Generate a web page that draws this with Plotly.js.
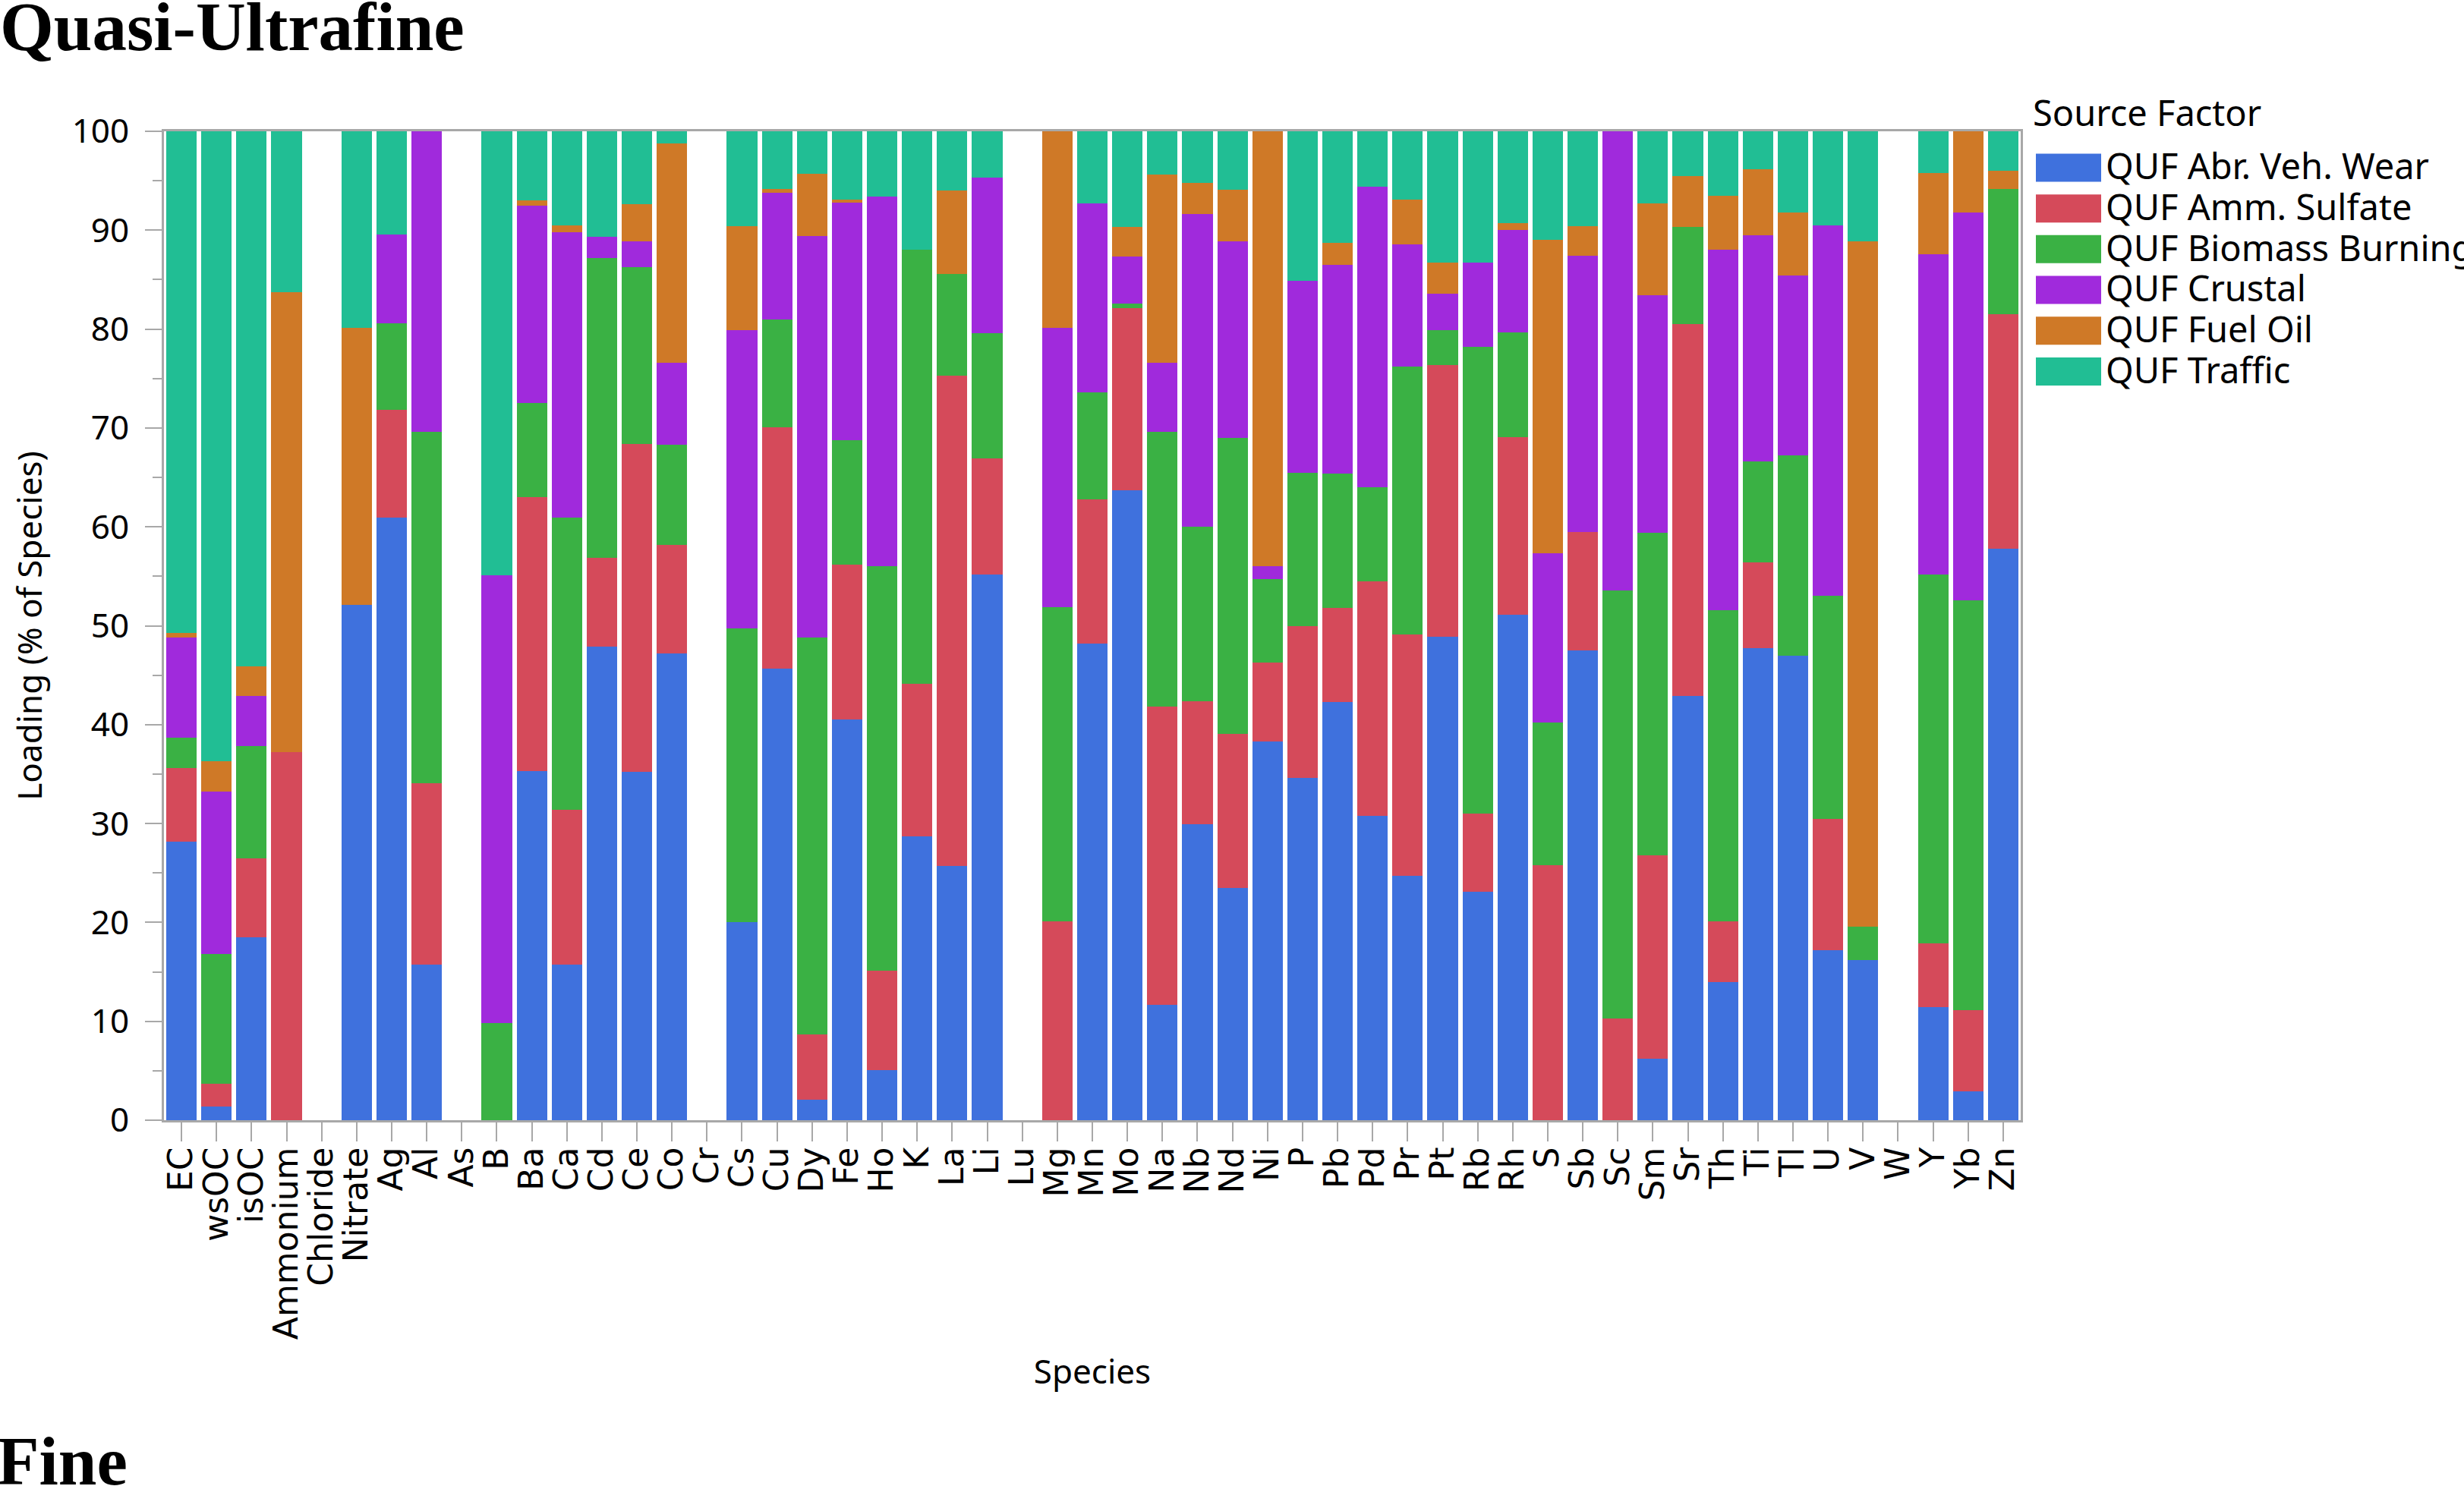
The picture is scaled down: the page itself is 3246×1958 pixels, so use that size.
<!DOCTYPE html>
<html>
<head>
<meta charset="utf-8">
<script src="https://cdn.plot.ly/plotly-3.0.1.min.js"></script>
<style>
  html, body { margin: 0; padding: 0; background: #fff; }
  #chart { width: 3246px; height: 1958px; }
</style>
</head>
<body>
<div id="chart"></div>
<script>
// ---------------- DATA ----------------
const species = ["EC","wsOC","isOC","Ammonium","Chloride","Nitrate","Ag","Al","As","B","Ba","Ca","Cd","Ce","Co","Cr","Cs","Cu","Dy","Fe","Ho","K","La","Li","Lu","Mg","Mn","Mo","Na","Nb","Nd","Ni","P","Pb","Pd","Pr","Pt","Rb","Rh","S","Sb","Sc","Sm","Sr","Th","Ti","Tl","U","V","W","Y","Yb","Zn"];

const factorNames = ["QUF Abr. Veh. Wear","QUF Amm. Sulfate","QUF Biomass Burning","QUF Crustal","QUF Fuel Oil","QUF Traffic"];

const abrVehWear = [28.2,1.4,18.5,0,0,52.1,60.9,15.7,0,0,35.3,15.7,47.9,35.2,47.2,0,20.0,45.7,2.1,40.5,5.1,28.7,25.7,55.2,0,0,48.2,63.7,11.7,29.9,23.5,38.3,34.6,42.3,30.8,24.7,48.9,23.1,51.1,0,47.5,0,6.2,42.9,14.0,47.7,47.0,17.2,16.2,0,11.4,2.9,57.8];
const ammSulfate = [7.4,2.3,8.0,37.2,0,0,10.9,18.4,0,0,27.7,15.7,9.0,33.2,11.0,0,0,24.4,6.6,15.7,10.0,15.4,49.6,11.7,0,20.1,14.6,18.4,30.1,12.5,15.6,8.0,15.4,9.5,23.7,24.4,27.5,7.9,18.0,25.8,12.0,10.3,20.6,37.6,6.1,8.7,0,13.3,0,0,6.5,8.2,23.7];
const biomassBurning = [3.1,13.1,11.3,0,0,0,8.8,35.5,0,9.8,9.5,29.5,30.3,17.9,10.1,0,29.7,10.9,40.1,12.6,40.9,43.9,10.3,12.7,0,31.8,10.8,0.5,27.8,17.6,29.9,8.4,15.5,13.6,9.5,27.1,3.5,47.2,10.6,14.4,0,43.3,32.6,9.8,31.5,10.2,20.2,22.5,3.4,0,37.3,41.5,12.7];
const crustal = [10.1,16.4,5.1,0,0,0,9.0,30.4,0,45.3,20.0,28.9,2.1,2.6,8.3,0,30.2,12.8,40.6,24.0,37.4,0,0,15.7,0,28.2,19.1,4.7,7.0,31.6,19.9,1.3,19.4,21.1,30.4,12.4,3.7,8.5,10.3,17.1,27.9,46.4,24.0,0,36.4,22.9,18.2,37.5,0,0,32.4,39.2,0];
const fuelOil = [0.5,3.1,3.0,46.5,0,28.0,0,0,0,0,0.5,0.7,0,3.7,22.2,0,10.5,0.4,6.3,0.3,0,0,8.4,0,0,19.9,0,3.0,19.0,3.2,5.2,44.0,0,2.2,0,4.5,3.1,0,0.7,31.7,3.0,0,9.3,5.2,5.5,6.7,6.4,0,69.3,0,8.2,8.2,1.8];
const traffic = [50.7,63.7,54.1,16.3,0,19.9,10.4,0,0,44.9,7.0,9.5,10.7,7.4,1.2,0,9.6,5.8,4.3,6.9,6.6,12.0,6.0,4.7,0,0,7.3,9.7,4.4,5.2,5.9,0,15.1,11.3,5.6,6.9,13.3,13.3,9.3,11.0,9.6,0,7.3,4.5,6.5,3.8,8.2,9.5,11.1,0,4.2,0,4.0];

const yTickVals = [0,10,20,30,40,50,60,70,80,90,100];

// ---------------- STYLE ----------------
const seriesValues = [abrVehWear, ammSulfate, biomassBurning, crustal, fuelOil, traffic];
const colors = ["#3F71DD","#D54A5A","#3AB144","#A02ADC","#CF7927","#21BE94"];
const axisGray = "#a8a8a8";
const W = 3246, H = 1958;
const plotL = 216, plotR = 2662, plotT = 173, plotB = 1476;
const plotW = plotR - plotL, plotH = plotB - plotT;
const px2x = p => (p - plotL) / plotW;
const py2y = p => (plotB - p) / plotH;

const traces = seriesValues.map((vals, i) => ({
  type: "bar",
  name: '<span style="font-size:47px">' + factorNames[i] + '</span>',
  x: species,
  y: vals,
  marker: { color: colors[i], line: { width: 0 } },
  hoverinfo: "x+y+name"
}));

const layout = {
  width: W, height: H,
  paper_bgcolor: "#fff", plot_bgcolor: "#fff",
  font: { family: "Noto Sans, Open Sans, sans-serif", color: "#000", size: 44 },
  barmode: "stack",
  bargap: 0.13,
  margin: { l: plotL, r: W - plotR, t: plotT, b: H - plotB, pad: 0, autoexpand: false },
  title: {
    text: "Quasi-Ultrafine",
    font: { family: "Liberation Serif, Times New Roman, serif", size: 91, weight: "bold", color: "#000" },
    xref: "container", x: 0, xanchor: "left",
    yref: "container", y: 1 - 34 / H, yanchor: "middle",
    pad: { t: 0, l: 0, r: 0, b: 0 }
  },
  xaxis: {
    type: "category",
    categoryorder: "array", categoryarray: species,
    tickmode: "array", tickvals: species, ticktext: species,
    tickangle: -90,
    tickfont: { family: "DejaVu Sans, sans-serif", size: 44, color: "#000" },
    ticks: "outside", ticklen: 25, tickwidth: 2, tickcolor: axisGray,
    ticklabelstandoff: -10,
    showline: true, linecolor: axisGray, linewidth: 3, mirror: true,
    showgrid: false, zeroline: false,
    title: { text: "Species", font: { family: "Noto Sans, sans-serif", size: 44, color: "#000" }, standoff: 28 }
  },
  yaxis: {
    range: [0, 100], autorange: false,
    tickmode: "array", tickvals: yTickVals, ticktext: yTickVals.map(String),
    tickfont: { family: "Noto Sans, sans-serif", size: 44, color: "#000" },
    ticks: "outside", ticklen: 22, tickwidth: 2, tickcolor: axisGray,
    minor: { dtick: 5, tick0: 0, ticks: "outside", ticklen: 12, tickwidth: 2, tickcolor: axisGray, showgrid: false },
    showline: true, linecolor: axisGray, linewidth: 3, mirror: true,
    showgrid: false, zeroline: false,
    ticklabelstandoff: 12,
    title: { text: "Loading (% of Species)", font: { family: "Noto Sans, sans-serif", size: 44, color: "#000" }, standoff: 26 }
  },
  showlegend: true,
  legend: {
    x: px2x(2676), xanchor: "left", xref: "paper",
    y: py2y(128), yanchor: "top", yref: "paper",
    bgcolor: "rgba(0,0,0,0)", borderwidth: 0,
    font: { family: "Noto Sans, sans-serif", size: 39, color: "#000" },
    title: { text: "Source Factor", font: { family: "Noto Sans, sans-serif", size: 47, color: "#000" } },
    itemwidth: 88,
    traceorder: "normal",
    itemclick: false, itemdoubleclick: false
  },
  annotations: [{
    text: "Fine",
    xref: "paper", yref: "paper",
    x: px2x(-6), xanchor: "left",
    y: py2y(1925), yanchor: "middle",
    showarrow: false,
    font: { family: "Liberation Serif, Times New Roman, serif", size: 91, weight: "bold", color: "#000" }
  }]
};

Plotly.newPlot("chart", traces, layout, { staticPlot: true, displayModeBar: false }).then(() => {
  document.querySelectorAll("#chart .legend .legendpoints path").forEach(p => {
    p.setAttribute("d", "M-43,-18.5H43V18.5H-43Z");
    p.style.strokeWidth = "0px";
  });
  const lt = document.querySelector("#chart .legend .legendtitletext");
  if (lt) lt.setAttribute("transform", "translate(0,-23)");
});
</script>
</body>
</html>
